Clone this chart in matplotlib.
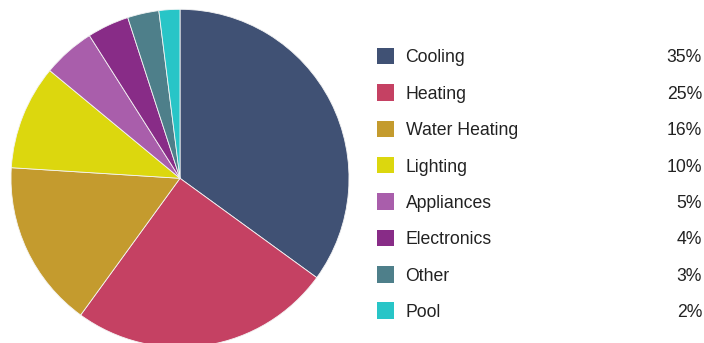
import matplotlib
matplotlib.use("Agg")
import matplotlib.pyplot as plt
from matplotlib.patches import Rectangle

categories = ["Cooling", "Heating", "Water Heating", "Lighting",
              "Appliances", "Electronics", "Other", "Pool"]
shares = [35, 25, 16, 10, 5, 4, 3, 2]
colors = ["#405174", "#c54163", "#c49b2e", "#dcd70e",
          "#a95eab", "#882c87", "#4e7f8a", "#28c5c7"]

W, H = 704, 343
fig = plt.figure(figsize=(W / 100, H / 100), dpi=100)
ax = fig.add_axes([0, 0, 1, 1])

# pie drawn in pixel-like coordinates (y axis flipped, so go counterclockwise)
ax.pie(shares, colors=colors, startangle=-90, counterclock=True,
       center=(180, 178.3), radius=169, frame=True,
       wedgeprops=dict(edgecolor="#f4f4f4", linewidth=0.6))
ax.set_xlim(0, W)
ax.set_ylim(H, 0)
ax.set_aspect("equal")
ax.axis("off")

font = ["Liberation Sans", "DejaVu Sans"]
for i, (name, val, col) in enumerate(zip(categories, shares, colors)):
    y = 56 + 36.4 * i
    ax.add_patch(Rectangle((377.3, y - 8.3), 16.6, 16.6, facecolor=col,
                           edgecolor="none"))
    ax.text(405.5, y, name, fontsize=12.7, family=font, color="#222222",
            va="center_baseline", ha="left")
    ax.text(702, y, f"{val}%", fontsize=12.7, family=font, color="#222222",
            va="center_baseline", ha="right")

fig.savefig("out.png", dpi=100)
